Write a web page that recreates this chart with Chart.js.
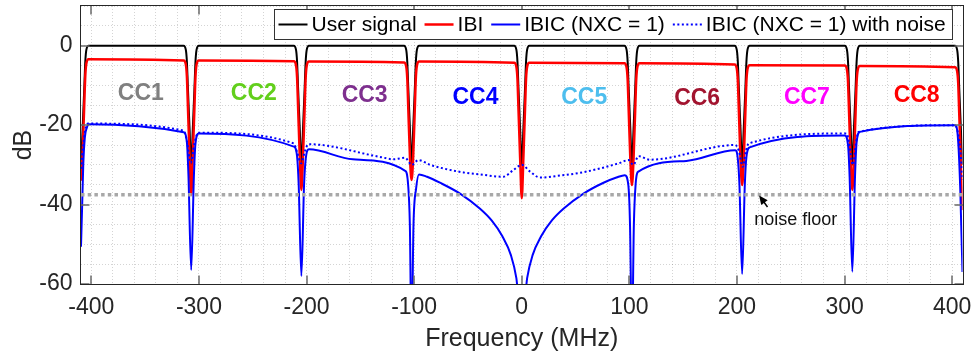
<!DOCTYPE html>
<html>
<head>
<meta charset="utf-8">
<script src="https://cdn.jsdelivr.net/npm/chart.js@4.4.0/dist/chart.umd.min.js"></script>
<style>
  html, body { margin: 0; padding: 0; background: #fff; }
</style>
</head>
<body>
<canvas id="spectrum" width="972" height="361"></canvas>
<script>
// frequency grid (MHz) shared by the user signal and the IBI curve
var sigFreq = [
  -409.6, -408.1, -406.6, -405.6, -404.6, -402.6,
  -314.2, -312.2, -311.2, -310.2, -308.7, -307.2, -305.7, -304.2, -303.2, -302.2, -300.2,
  -211.8, -209.8, -208.8, -207.8, -206.3, -204.8, -203.3, -201.8, -200.8, -199.8, -197.8,
  -109.4, -107.4, -106.4, -105.4, -103.9, -102.4, -100.9, -99.4, -98.4, -97.4, -95.4,
  -7, -5, -4, -3, -1.5, 0, 1.5, 3, 4, 5, 7,
  95.4, 97.4, 98.4, 99.4, 100.9, 102.4, 103.9, 105.4, 106.4, 107.4, 109.4,
  197.8, 199.8, 200.8, 201.8, 203.3, 204.8, 206.3, 207.8, 208.8, 209.8, 211.8,
  300.2, 302.2, 303.2, 304.2, 305.7, 307.2, 308.7, 310.2, 311.2, 312.2, 314.2,
  402.6, 404.6, 405.6, 406.6, 408.1, 409.6
];
var userDb = [
  -30, -21, -11, -4, -1, 0,
  0, -1, -4, -11, -21, -30, -21, -11, -4, -1, 0,
  0, -1, -4, -11, -21, -30, -21, -11, -4, -1, 0,
  0, -1, -4, -11, -21, -30, -21, -11, -4, -1, 0,
  0, -1, -4, -11, -21, -30, -21, -11, -4, -1, 0,
  0, -1, -4, -11, -21, -30, -21, -11, -4, -1, 0,
  0, -1, -4, -11, -21, -30, -21, -11, -4, -1, 0,
  0, -1, -4, -11, -21, -30, -21, -11, -4, -1, 0,
  0, -1, -4, -11, -21, -30
];
var ibiDb = [
  -34, -27, -15, -7.4, -4.4, -3.4,
  -3.7, -4.7, -7.7, -15.7, -27.7, -37.6, -27.7, -15.7, -7.7, -4.7, -3.7,
  -3.9, -4.9, -7.9, -15.9, -27.9, -36.3, -28, -16, -8, -5, -4.0,
  -4.2, -5.2, -8.2, -16.2, -28, -33.8, -28, -16, -8, -5, -4.0,
  -4.3, -5.3, -8.3, -16.3, -28.3, -38.4, -28.3, -16.3, -8.3, -5.3, -4.3,
  -4.4, -5.4, -8.4, -16.4, -28.4, -35.1, -28.4, -16.4, -8.4, -5.4, -4.4,
  -4.7, -5.7, -8.7, -16.7, -28.7, -35.1, -28.9, -16.9, -8.9, -5.9, -4.9,
  -5.0, -6.0, -9.0, -17.0, -29, -36.3, -29.1, -17.1, -9.1, -6.1, -5.1,
  -5.4, -6.4, -9.4, -17.4, -29.4, -41.4
];

// IBIC, one cross-carrier term
var ibicFreq = [
  -409.6, -408.5, -407.5, -406, -404, -402.6,
  -314.2, -311.2, -309.7, -307.2, -304.7, -303.2, -300.2,
  -211.8, -208.8, -207.3, -204.8, -202.3, -200.8, -197.8,
  -157,
  -108.4, -105.6, -104, -102.4, -100.6, -98.2, -95.5,
  -88, -76, -57, -39, -28, -18, -10, -5, -3,
  3, 5, 10, 18, 28, 39, 57, 76, 88,
  95.8, 99, 100.6, 102.4, 104.2, 105.8, 108.4,
  153,
  198.4, 200.8, 202.3, 204.8, 207.3, 208.8, 211.8,
  300.2, 303.2, 304.7, 307.2, 309.7, 311.2, 314.2,
  402.6, 404.5, 406, 407.5, 408.6, 409.6
];
var ibicDb = [
  -50.6, -40, -30, -23, -20.5, -19.8,
  -21.8, -24.3, -33, -56.5, -33, -24.6, -22.1,
  -25.4, -27.9, -35, -58, -35, -28.6, -26.1,
  -28.6,
  -31.5, -35, -45, -75, -45, -36, -32.4,
  -33.0, -34.5, -37.3, -41.0, -44.0, -48.0, -52.8, -58.5, -63,
  -63, -58.5, -52.8, -48.0, -44.0, -41.0, -37.3, -34.5, -33.2,
  -32.6, -35, -45, -75, -45, -35, -31.7,
  -29.0,
  -26.3, -28.5, -35, -57.5, -35, -28, -25.6,
  -22.6, -25, -33, -56.9, -33, -24.3, -21.7,
  -20.0, -21, -26, -36, -47, -57
];

// IBIC measured with receiver noise
var noisyFreq = [
  -409.6, -407.5, -405.5, -403,
  -314.2, -311.2, -307.7, -304.2, -300.7,
  -211.8, -208.8, -205, -201.8, -198.3,
  -131.7, -119.3, -108.5,
  -102.2, -96.1,
  -85.2, -69.7, -54.3, -38.8, -17.1, -7.8, 0,
  7.7, 17, 35.6, 54.2, 72.8, 91.4, 99.1,
  103.7, 108.5, 119,
  198.4, 201.8, 205.3, 208.3, 211,
  302, 304.2, 307.7, 310.7, 313,
  402.7, 405, 407.5, 409.6
];
var noisyDb = [
  -31, -25, -21, -19.6,
  -21.4, -24, -29.5, -24.6, -21.9,
  -24.6, -26.8, -29.6, -26.8, -24.8,
  -28.0, -28.6, -28.2,
  -30.0, -28.8,
  -30.0, -31.1, -31.9, -32.4, -33.0, -31.3, -30.0,
  -31.7, -33.2, -32.7, -32.0, -30.9, -29.5, -28.8,
  -30.0, -27.8, -28.7,
  -25.0, -26.5, -30.5, -26.5, -24.6,
  -22.1, -24.5, -30.0, -24.3, -21.7,
  -20.0, -21.5, -26, -33.8
];

var noiseFloorDb = -37.5;
var freqSpan = [-409.6, 409.6];

var xTickLabels = [-400, -300, -200, -100, 0, 100, 200, 300, 400];
var yTickLabels = [-60, -40, -20, 0];

var ccNames = ['CC1', 'CC2', 'CC3', 'CC4', 'CC5', 'CC6', 'CC7', 'CC8'];

// where the carrier names sit (MHz, dB) and their colours
var ccLabelAt = [
  [-354, -12.0], [-249, -12.0], [-146, -12.6], [-43, -13.2],
  [58, -13.2], [163, -13.4], [265, -13.1], [367, -12.7]
];
var ccColors = ['#808080', '#62cf1c', '#7e2f8e', '#0000ff', '#4dbeee', '#a2142f', '#ff00ff', '#ff0000'];

var FONT = '"Liberation Sans", Arial, Helvetica, sans-serif';
var INK = '#262626';

function toPoints(xs, ys) {
  return xs.map(function (x, i) { return { x: x, y: ys[i] }; });
}

function stepTicks(from, to, step) {
  var out = [];
  for (var v = from; v <= to + 1e-9; v += step) out.push({ value: v });
  return out;
}

// box round the plot and inward tick marks, like the original figure
var axesBox = {
  id: 'axesBox',
  afterDatasetsDraw: function (chart) {
    var c = chart.ctx, a = chart.chartArea;
    var xs = chart.scales.x, ys = chart.scales.y;
    var L = Math.round(a.left) - 0.5, R = Math.round(a.right) + 0.5;
    var T = Math.round(a.top) - 0.5, B = Math.round(a.bottom) + 0.5;
    c.save();
    c.strokeStyle = '#6a6a6a';
    c.lineWidth = 1.5;
    c.beginPath();
    xTickLabels.forEach(function (v) {
      var px = Math.round(xs.getPixelForValue(v));
      c.moveTo(px, B); c.lineTo(px, B - 9);
      c.moveTo(px, T); c.lineTo(px, T + 9);
    });
    yTickLabels.forEach(function (v) {
      var py = Math.round(ys.getPixelForValue(v));
      c.moveTo(L, py); c.lineTo(L + 9, py);
      c.moveTo(R, py); c.lineTo(R - 9, py);
    });
    c.stroke();
    c.strokeStyle = INK;
    c.lineWidth = 1;
    c.strokeRect(L, T, R - L, B - T);
    c.restore();
  }
};

// carrier names and the noise floor note with its arrow
var notes = {
  id: 'notes',
  afterDatasetsDraw: function (chart) {
    var c = chart.ctx;
    var xs = chart.scales.x, ys = chart.scales.y;
    c.save();
    c.font = 'bold 23px ' + FONT;
    c.textAlign = 'center';
    c.textBaseline = 'middle';
    ccNames.forEach(function (name, i) {
      c.fillStyle = ccColors[i];
      c.fillText(name, xs.getPixelForValue(ccLabelAt[i][0]), ys.getPixelForValue(ccLabelAt[i][1]));
    });

    c.font = '18px ' + FONT;
    c.textAlign = 'left';
    c.textBaseline = 'alphabetic';
    c.fillStyle = '#111';
    c.fillText('noise floor', xs.getPixelForValue(216), ys.getPixelForValue(-45.2));

    var tx = xs.getPixelForValue(220.6), ty = ys.getPixelForValue(-37.7);
    var sx = xs.getPixelForValue(228.4), sy = ys.getPixelForValue(-40.6);
    var ang = Math.atan2(ty - sy, tx - sx);
    c.strokeStyle = '#000';
    c.fillStyle = '#000';
    c.lineWidth = 1.5;
    c.beginPath();
    c.moveTo(sx, sy);
    c.lineTo(tx - 5 * Math.cos(ang), ty - 5 * Math.sin(ang));
    c.stroke();
    c.beginPath();
    c.moveTo(tx, ty);
    c.lineTo(tx - 9 * Math.cos(ang) + 4 * Math.sin(ang), ty - 9 * Math.sin(ang) - 4 * Math.cos(ang));
    c.lineTo(tx - 9 * Math.cos(ang) - 4 * Math.sin(ang), ty - 9 * Math.sin(ang) + 4 * Math.cos(ang));
    c.closePath();
    c.fill();
    c.restore();
  }
};

// legend in one row at the top right, drawn over the curves
var legendRow = {
  id: 'legendRow',
  afterDatasetsDraw: function (chart) {
    var c = chart.ctx, a = chart.chartArea;
    var sets = chart.data.datasets.slice(0, 4);
    c.save();
    c.font = '21px ' + FONT;
    var lineLen = 29, gapText = 4, gapItem = 8, padL = 4, padR = 7, h = 30;
    var widths = sets.map(function (ds) { return c.measureText(ds.label).width; });
    var total = padL + padR + sets.length * (lineLen + gapText) + gapItem * (sets.length - 1);
    widths.forEach(function (w) { total += w; });
    var right = Math.round(a.right - 11) + 0.5;
    var top = Math.round(a.top + 3) + 0.5;
    var left = Math.round(right - total) + 0.5;
    c.fillStyle = '#fff';
    c.fillRect(left, top, right - left, h);
    c.strokeStyle = '#333';
    c.lineWidth = 1;
    c.strokeRect(left, top, right - left, h);
    var x = left + padL, cy = top + h / 2;
    sets.forEach(function (ds, i) {
      c.beginPath();
      c.setLineDash(ds.borderDash || []);
      c.strokeStyle = ds.borderColor;
      c.lineWidth = ds.borderWidth;
      c.moveTo(x, cy);
      c.lineTo(x + lineLen, cy);
      c.stroke();
      c.setLineDash([]);
      x += lineLen + gapText;
      c.fillStyle = '#000';
      c.textBaseline = 'middle';
      c.fillText(ds.label, x, cy + 1);
      x += widths[i] + gapItem;
    });
    c.restore();
  }
};

var ctx = document.getElementById('spectrum').getContext('2d');
var spectrumChart = new Chart(ctx, {
  type: 'line',
  data: {
    datasets: [
      { label: 'User signal', data: toPoints(sigFreq, userDb), borderColor: '#000000', borderWidth: 2, order: 4 },
      { label: 'IBI', data: toPoints(sigFreq, ibiDb), borderColor: '#ff0000', borderWidth: 2.5, order: 3 },
      { label: 'IBIC (NXC = 1)', data: toPoints(ibicFreq, ibicDb), borderColor: '#0000ff', borderWidth: 2, order: 2 },
      { label: 'IBIC (NXC = 1) with noise', data: toPoints(noisyFreq, noisyDb), borderColor: '#0000ff', borderWidth: 2, borderDash: [2, 2.5], order: 1 },
      {
        label: 'noise floor',
        data: freqSpan.map(function (f) { return { x: f, y: noiseFloorDb }; }),
        borderColor: '#a8a8a8', borderWidth: 3.5, borderDash: [3.5, 3.2], order: 0
      }
    ]
  },
  options: {
    responsive: false,
    animation: false,
    devicePixelRatio: 1,
    layout: { padding: { top: 6, right: 9.5, left: 0, bottom: 0 } },
    elements: {
      point: { radius: 0 },
      line: { tension: 0, cubicInterpolationMode: 'monotone', fill: false, borderCapStyle: 'butt' }
    },
    plugins: { legend: { display: false }, tooltip: { enabled: false } },
    scales: {
      x: {
        type: 'linear',
        min: freqSpan[0],
        max: freqSpan[1],
        afterBuildTicks: function (s) { s.ticks = stepTicks(-400, 400, 20); },
        afterFit: function (s) { s.height = 77; s.paddingLeft = 0; s.paddingRight = 0; },
        grid: { color: 'rgba(0,0,0,0.17)', lineWidth: 1, drawTicks: false },
        border: { display: false, dash: [1, 2] },
        ticks: {
          color: INK, padding: 10, maxRotation: 0, autoSkip: false,
          font: { family: FONT, size: 23 },
          callback: function (v) { return xTickLabels.indexOf(v) >= 0 ? String(v) : ''; }
        },
        title: {
          display: true, text: 'Frequency (MHz)', color: INK,
          font: { family: FONT, size: 25 }, padding: { top: 0, bottom: 7 }
        }
      },
      y: {
        type: 'linear',
        min: -60,
        max: 10,
        afterBuildTicks: function (s) { s.ticks = stepTicks(-60, 10, 5); },
        afterFit: function (s) { s.width = 81; s.paddingTop = 0; s.paddingBottom = 0; },
        grid: { color: 'rgba(0,0,0,0.17)', lineWidth: 1, drawTicks: false },
        border: { display: false, dash: [1, 2] },
        ticks: {
          color: INK, padding: 8.5, autoSkip: false,
          font: { family: FONT, size: 23 },
          callback: function (v) { return yTickLabels.indexOf(v) >= 0 ? String(v) : ''; }
        },
        title: {
          display: true, text: 'dB', color: INK,
          font: { family: FONT, size: 25 }, padding: { top: 9, bottom: 0 }
        }
      }
    }
  },
  plugins: [axesBox, notes, legendRow]
});
</script>
</body>
</html>
